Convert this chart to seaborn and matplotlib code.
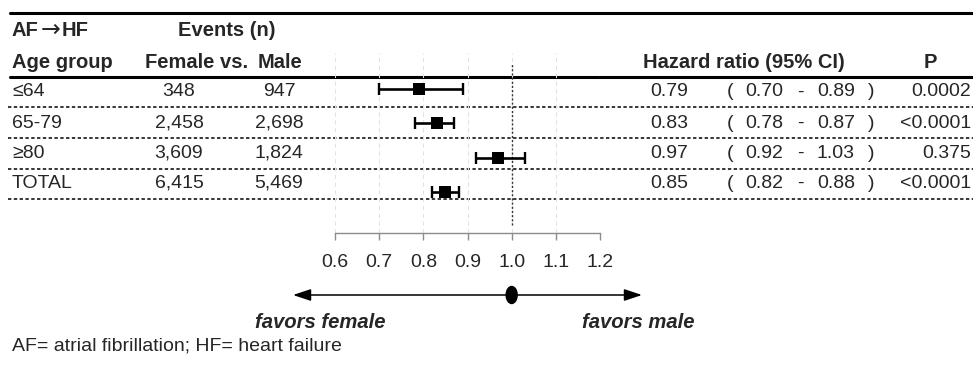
import numpy as np
import pandas as pd
import seaborn as sns
import matplotlib.pyplot as plt
from matplotlib.patches import Ellipse

# datos del forest plot
age_groups = ["≤64", "65-79", "≥80", "TOTAL"]
female_events = [348, 2458, 3609, 6415]
male_events = [947, 2698, 1824, 5469]
hr = [0.79, 0.83, 0.97, 0.85]
ci_lo = [0.70, 0.78, 0.92, 0.82]
ci_hi = [0.89, 0.87, 1.03, 0.88]
p_vals = ["0.0002", "<0.0001", "0.375", "<0.0001"]
x_ticks = [0.6, 0.7, 0.8, 0.9, 1.0, 1.1, 1.2]

df = pd.DataFrame({"grupo": age_groups, "hr": hr, "lo": ci_lo, "hi": ci_hi,
                   "fila": np.arange(len(age_groups))})

sns.set_theme(style="white")
plt.rcParams['font.family'] = ['Liberation Sans', 'DejaVu Sans']

W, H = 973, 365
fig = plt.figure(figsize=(W / 100, H / 100), dpi=100)

# eje de fondo en pixeles para la tabla
ax0 = fig.add_axes([0, 0, 1, 1])
ax0.set_xlim(0, W)
ax0.set_ylim(H, 0)
ax0.axis("off")

# eje del forest plot
top_px, bot_px, left_px, right_px = 53, 233, 335, 600
ax = fig.add_axes([left_px / W, (H - bot_px) / H, (right_px - left_px) / W, (bot_px - top_px) / H])
ax.patch.set_alpha(0)
row0, step = 89, 34.33
ax.set_ylim((bot_px - row0) / step, (top_px - row0) / step)
ax.set_xlim(0.6, 1.2)

ax.grid(axis="x", color="#e3e3e3", linestyle=(0, (4, 3)), lw=0.8)
ax.axvline(1.0, ymin=0.044, ymax=0.944, color="#333333", linestyle=(0, (1.5, 1.5)), lw=1.0, zorder=2)

ax.errorbar(df["hr"], df["fila"],
            xerr=[df["hr"] - df["lo"], df["hi"] - df["hr"]],
            fmt="none", ecolor="black", elinewidth=1.9, capsize=4.5, capthick=1.7, zorder=3)
sns.scatterplot(data=df, x="hr", y="fila", marker="s", s=85, color="black",
                edgecolor="black", linewidth=0, zorder=4, ax=ax, legend=False)

for s in ["top", "left", "right"]:
    ax.spines[s].set_visible(False)
ax.spines["bottom"].set_color("#8c8c8c")
ax.spines["bottom"].set_linewidth(1.0)
ax.set_xticks(x_ticks)
ax.set_xticklabels([f"{t:.1f}" for t in x_ticks], fontsize=14)
ax.tick_params(axis="x", direction="out", length=5, width=1.0, color="#8c8c8c", pad=10, bottom=True)
ax.set_yticks([])
ax.set_xlabel("")
ax.set_ylabel("")

# flechas de favorece
arrow_y = (bot_px - 295) / (bot_px - top_px)
for x_end in [0.505, 1.295]:
    ax.annotate("", xy=(x_end, arrow_y), xytext=(1.0, arrow_y),
                xycoords=("data", "axes fraction"), textcoords=("data", "axes fraction"),
                arrowprops=dict(arrowstyle="-|>,head_length=0.9,head_width=0.3", color="black", lw=1.1,
                                shrinkA=0, shrinkB=0), annotation_clip=False)
fig.canvas.draw()
x1 = ax.transData.transform((1.0, 0))[0]
ax0.add_patch(Ellipse((x1, 295), 11, 17, color="black", zorder=5))
ax0.text(320, 322, "favors female", fontsize=14.6, fontweight="bold", fontstyle="italic", ha="center", va="center")
ax0.text(638, 322, "favors male", fontsize=14.6, fontweight="bold", fontstyle="italic", ha="center", va="center")

# lineas de la tabla
ax0.plot([10, W], [13, 13], color="black", lw=2.2)
ax0.plot([10, W], [77, 77], color="black", lw=2.2)
for yl in [107, 138, 169, 199]:
    ax0.plot([8, W], [yl, yl], color="black", lw=1.1, linestyle=(0, (2.2, 1.6)))

# encabezados
hdr = dict(fontsize=14.5, fontweight="bold", va="center")
ax0.text(12, 30, "AF", ha="left", **hdr)
ax0.text(51, 30, "→", ha="center", family=["DejaVu Sans"], fontsize=17, va="center")
ax0.text(62, 30, "HF", ha="left", **hdr)
ax0.text(227, 30, "Events (n)", ha="center", **hdr)
ax0.text(12, 63, "Age group", ha="left", **hdr)
ax0.text(145, 63, "Female vs.", ha="left", **hdr)
ax0.text(302, 63, "Male", ha="right", **hdr)
ax0.text(643, 63, "Hazard ratio (95% CI)", ha="left", **hdr)
ax0.text(930, 63, "P", ha="center", **hdr)

# filas
txt = dict(fontsize=14, va="center")
row_y = [92, 123, 153, 183]
for i, yy in enumerate(row_y):
    ax0.text(12, yy, age_groups[i], ha="left", **txt)
    ax0.text(179, yy, f"{female_events[i]:,}", ha="center", **txt)
    ax0.text(279, yy, f"{male_events[i]:,}", ha="center", **txt)
    ax0.text(650, yy, f"{hr[i]:.2f}", ha="left", **txt)
    ax0.text(727, yy, "(", ha="left", **txt)
    ax0.text(745, yy, f"{ci_lo[i]:.2f}", ha="left", **txt)
    ax0.text(800, yy, "-", ha="center", **txt)
    ax0.text(817, yy, f"{ci_hi[i]:.2f}", ha="left", **txt)
    ax0.text(868, yy, ")", ha="left", **txt)
    ax0.text(971, yy, p_vals[i], ha="right", **txt)

ax0.text(12, 346, "AF= atrial fibrillation; HF= heart failure", fontsize=14, ha="left", va="center")

fig.savefig("out.png", dpi=100)
